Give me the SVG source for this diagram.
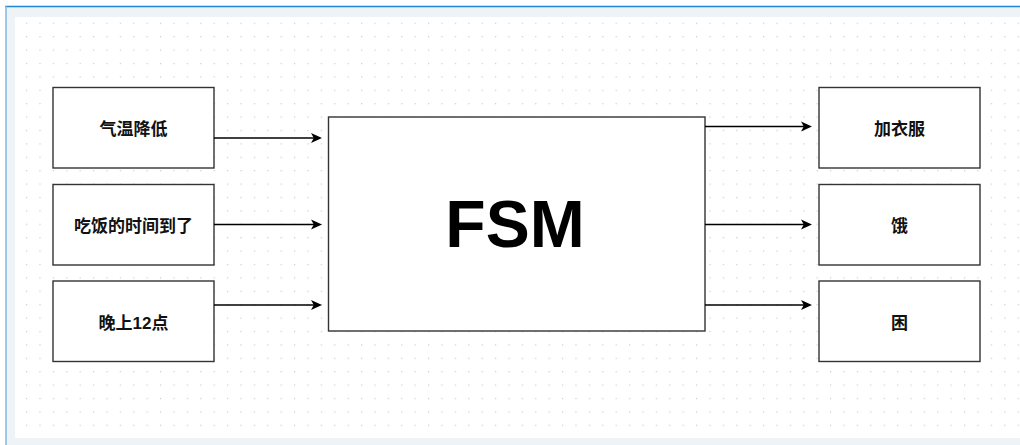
<svg xmlns="http://www.w3.org/2000/svg" width="1020" height="445" viewBox="0 0 1020 445">
  <defs>
    <style>
      .box { fill: #ffffff; stroke: #333333; stroke-width: 1.4; }
      .lbl { font-family: "Liberation Sans", "Noto Sans CJK SC", sans-serif; font-size: 17px; font-weight: bold; fill: #111111; text-anchor: middle; }
      .big { font-family: "Liberation Sans", Arial, sans-serif; font-size: 66px; font-weight: bold; fill: #000000; text-anchor: middle; }
      .wire { fill: none; stroke: #000000; stroke-width: 1.4; }
    </style>
    <pattern id="grid" x="12.6" y="9.3" width="13.4" height="13.4" patternUnits="userSpaceOnUse">
      <rect x="0" y="0" width="1.2" height="1.2" fill="#cccccc"/>
    </pattern>
    <marker id="arrow" viewBox="0 0 11 11" refX="4" refY="5.5" markerWidth="11" markerHeight="11" markerUnits="userSpaceOnUse" orient="auto">
      <path d="M11,5.5 L0,0.6 L2.8,5.5 L0,10.4 Z" fill="#000000"/>
    </marker>
  </defs>

  <!-- page frame -->
  <rect x="0" y="0" width="1020" height="445" fill="#ffffff"/>
  <rect x="6" y="6" width="1014" height="439" fill="#eef3f8"/>
  <line x1="5" y1="6.5" x2="1020" y2="6.5" stroke="#1f86d4" stroke-width="1.5"/>
  <line x1="6" y1="6" x2="6" y2="445" stroke="#7fb6e4" stroke-width="1.5"/>
  <rect x="15" y="17" width="1005" height="421" fill="#ffffff"/>
  <rect x="15" y="17" width="1005" height="421" fill="url(#grid)"/>

  <!-- inputs -->
  <g id="in-temp">
    <rect class="box" x="53" y="87.5" width="161" height="80.5"/>
    <text class="lbl" x="133.5" y="135">气温降低</text>
  </g>
  <g id="in-meal">
    <rect class="box" x="53" y="184.5" width="161" height="80.5"/>
    <text class="lbl" x="133.5" y="232">吃饭的时间到了</text>
  </g>
  <g id="in-night">
    <rect class="box" x="53" y="281" width="161" height="80.5"/>
    <text class="lbl" x="133.5" y="328.5">晚上12点</text>
  </g>

  <!-- state machine -->
  <g id="fsm">
    <rect class="box" x="328.5" y="117" width="376.5" height="214"/>
    <text class="big" x="515" y="247">FSM</text>
  </g>

  <!-- outputs -->
  <g id="out-clothes">
    <rect class="box" x="819" y="87.5" width="161" height="80.5"/>
    <text class="lbl" x="899.5" y="135">加衣服</text>
  </g>
  <g id="out-hungry">
    <rect class="box" x="819" y="184.5" width="161" height="80.5"/>
    <text class="lbl" x="899.5" y="232">饿</text>
  </g>
  <g id="out-sleepy">
    <rect class="box" x="819" y="281" width="161" height="80.5"/>
    <text class="lbl" x="899.5" y="328.5">困</text>
  </g>

  <!-- connectors -->
  <g id="connectors">
    <path class="wire" d="M214,138 L315,138" marker-end="url(#arrow)"/>
    <path class="wire" d="M214,224.5 L315,224.5" marker-end="url(#arrow)"/>
    <path class="wire" d="M214,305 L315,305" marker-end="url(#arrow)"/>
    <path class="wire" d="M705,126.5 L805,126.5" marker-end="url(#arrow)"/>
    <path class="wire" d="M705,224.5 L805,224.5" marker-end="url(#arrow)"/>
    <path class="wire" d="M705,305 L805,305" marker-end="url(#arrow)"/>
  </g>
</svg>
